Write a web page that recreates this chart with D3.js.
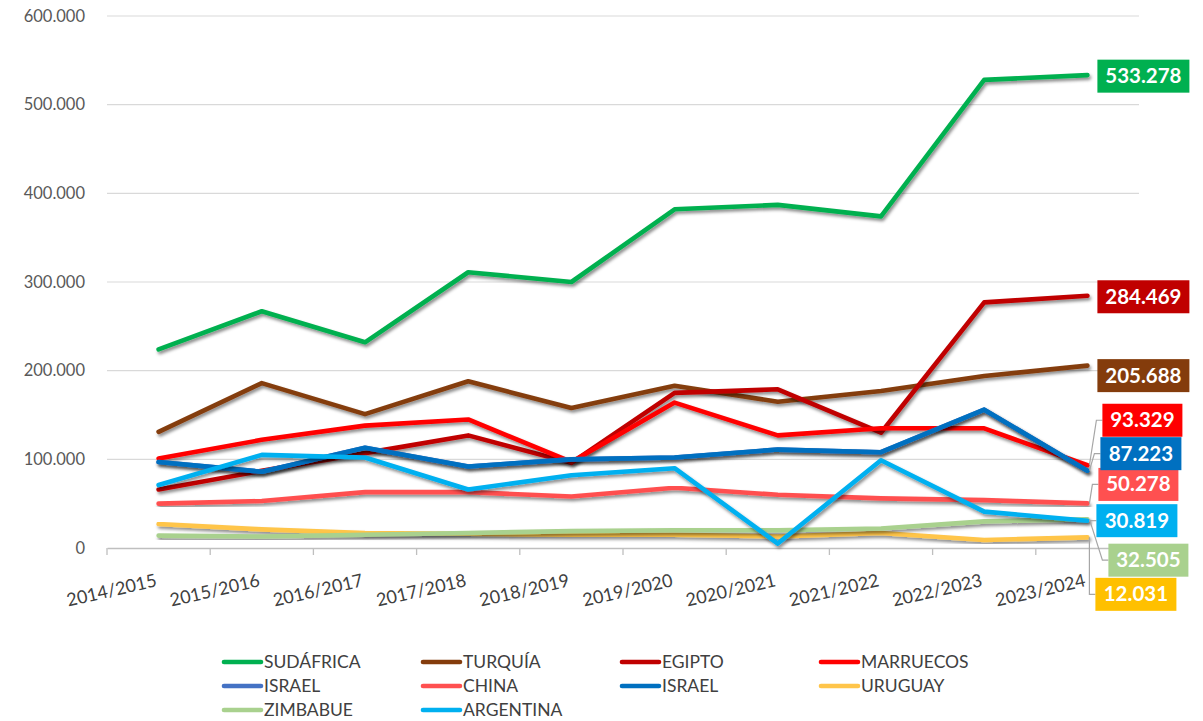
<!DOCTYPE html>
<html><head><meta charset="utf-8">
<script src="https://cdn.jsdelivr.net/npm/d3@7/dist/d3.min.js"></script>
<style>body{margin:0;background:#fff;}svg{display:block;font-family:Lato,"Open Sans",sans-serif;}</style>
</head><body><svg id="c" width="1203" height="721"></svg>
<script>
const categories = ["2014/2015","2015/2016","2016/2017","2017/2018","2018/2019","2019/2020","2020/2021","2021/2022","2022/2023","2023/2024"];
const yTicks = [0,100000,200000,300000,400000,500000,600000];
const seriesNames = ["SUDÁFRICA","TURQUÍA","EGIPTO","MARRUECOS","ISRAEL","CHINA","ISRAEL","URUGUAY","ZIMBABUE","ARGENTINA"];
const sudafrica = [224000,267000,232000,311000,300000,382000,387000,374000,528000,533278];
const turquia   = [131000,186000,151000,188000,158000,183000,165000,177000,194000,205688];
const egipto    = [66000,87000,107000,127000,96000,175000,179000,130000,277000,284469];
const marruecos = [101000,122000,138000,145000,97000,164000,127000,135000,135000,93329];
const israel1   = [97000,86000,113000,92000,100000,102000,111000,108000,156000,87223];
const china     = [50000,53000,63000,63000,58000,68000,60000,56000,54000,50278];
const israel2   = [97000,86000,113000,92000,100000,102000,111000,108000,156000,87223];
const uruguay   = [27000,21000,17000,16000,15000,15000,13000,17000,9000,12031];
const zimbabue  = [14000,13000,15000,17000,19000,20000,20000,22000,30000,32505];
const argentina = [71000,105000,102000,66000,82000,90000,5000,99000,41000,30819];
const seriesValues = [sudafrica,turquia,egipto,marruecos,israel1,china,israel2,uruguay,zimbabue,argentina];
const colors = ["#00B050","#843C0C","#C00000","#FF0000","#4472C4","#FF5050","#0070C0","#FFC000","#A9D18E","#00B0F0"];
const lineColors = ["#00B050","#843C0C","#C00000","#FF0000","#4472C4","#FF5050","#0070C0","#FFC54A","#A9D18E","#00B0F0"];
// end-label layout (pixel offsets of label box from last point; null = no label)
const labelLayout = [
  {dx:10,dy:1,w:92,leader:false},{dx:10,dy:10,w:92,leader:false},{dx:10,dy:1,w:92,leader:false},
  {dx:15,dy:-45,w:80,leader:true},null,{dx:11,dy:-19,w:80,leader:true},
  {dx:13,dy:-17,w:81,leader:true},{dx:8,dy:57,w:81,leader:true},{dx:21,dy:41,w:80,leader:true},{dx:9,dy:0,w:81,leader:true}
];

const svg = d3.select("#c");
const x = d3.scaleBand().domain(categories).range([107,1139]);
const y = d3.scaleLinear().domain([0,600000]).range([548,16]);
const fmt = v => d3.format(",")(v).replace(/,/g,".");

const defs = svg.append("defs");
const f = defs.append("filter").attr("id","sh").attr("x","-10%").attr("y","-10%").attr("width","120%").attr("height","130%");
f.append("feDropShadow").attr("dx",1.5).attr("dy",2.5).attr("stdDeviation",1.6).attr("flood-color","#000").attr("flood-opacity",0.45);

// gridlines
svg.append("g").selectAll("line").data(yTicks.filter(d=>d>0)).join("line")
  .attr("x1",107).attr("x2",1139).attr("y1",d=>y(d)).attr("y2",d=>y(d))
  .attr("stroke","#D9D9D9").attr("stroke-width",1.2);

// y axis labels
const yAxis = d3.axisLeft(y).tickValues(yTicks).tickFormat(fmt).tickSize(0).tickPadding(22);
const gy = svg.append("g").attr("transform","translate(107,0)").call(yAxis);
gy.select(".domain").remove();
gy.selectAll("text").attr("font-size",16.5).attr("fill","#595959").attr("font-family","Lato");

// x axis
const xAxis = d3.axisBottom(x).tickSize(0).tickFormat(d=>d);
const gx = svg.append("g").attr("transform","translate(0,548)").call(xAxis);
gx.select(".domain").attr("stroke","#BFBFBF").attr("stroke-width",1.3);
gx.selectAll("text").attr("font-size",18).attr("fill","#404040").attr("font-family","Lato")
  .attr("text-anchor","end").attr("dy",0).attr("y",0)
  .attr("transform","translate(-1,38) rotate(-13)");
// band edge tick marks
const edges = categories.map(c=>x(c)).concat([x(categories[categories.length-1])+x.bandwidth()]);
svg.append("g").selectAll("line").data(edges).join("line")
  .attr("x1",d=>d).attr("x2",d=>d).attr("y1",548).attr("y2",555)
  .attr("stroke","#BFBFBF").attr("stroke-width",1.3);

// lines
const line = d3.line().x((d,i)=>x(categories[i])+x.bandwidth()/2).y(d=>y(d));
const lg = svg.append("g");
seriesValues.forEach((vals,i)=>{
  lg.append("path").datum(vals).attr("d",line).attr("fill","none")
    .attr("stroke",lineColors[i]).attr("stroke-width",4.6)
    .attr("stroke-linejoin","round").attr("stroke-linecap","round")
    .attr("filter","url(#sh)");
});

// end labels
const last = categories.length-1;
const lab = svg.append("g");
seriesValues.forEach((vals,i)=>{
  const L = labelLayout[i]; if(!L) return;
  const px = x(categories[last])+x.bandwidth()/2, py = y(vals[last]);
  const bx = px+L.dx, by = py+L.dy, h = 33;
  if(L.leader){
    lab.append("polyline").attr("points",`${px+2},${py} ${bx-6},${by} ${bx},${by}`)
      .attr("fill","none").attr("stroke","#A6A6A6").attr("stroke-width",1.2);
  }
  lab.append("rect").attr("x",bx).attr("y",by-h/2).attr("width",L.w).attr("height",h)
    .attr("fill",colors[i]);
  lab.append("text").attr("x",bx+L.w/2).attr("y",by+7).attr("text-anchor","middle")
    .attr("font-size",20.5).attr("font-weight","bold").attr("fill","#fff").attr("font-family","Lato")
    .text(fmt(vals[last]));
});

// legend
const legCols = [222,421,620,819], legRows = [662,686,710];
const leg = svg.append("g");
seriesNames.forEach((n,i)=>{
  const cx = legCols[i%4], cy = legRows[Math.floor(i/4)];
  leg.append("line").attr("x1",cx+2).attr("x2",cx+39).attr("y1",cy).attr("y2",cy)
    .attr("stroke",lineColors[i]).attr("stroke-width",4.6).attr("stroke-linecap","round");
  leg.append("text").attr("x",cx+42).attr("y",cy+6).attr("font-size",17.5).attr("fill","#404040")
    .attr("font-family","Lato").text(n);
});
</script></body></html>
